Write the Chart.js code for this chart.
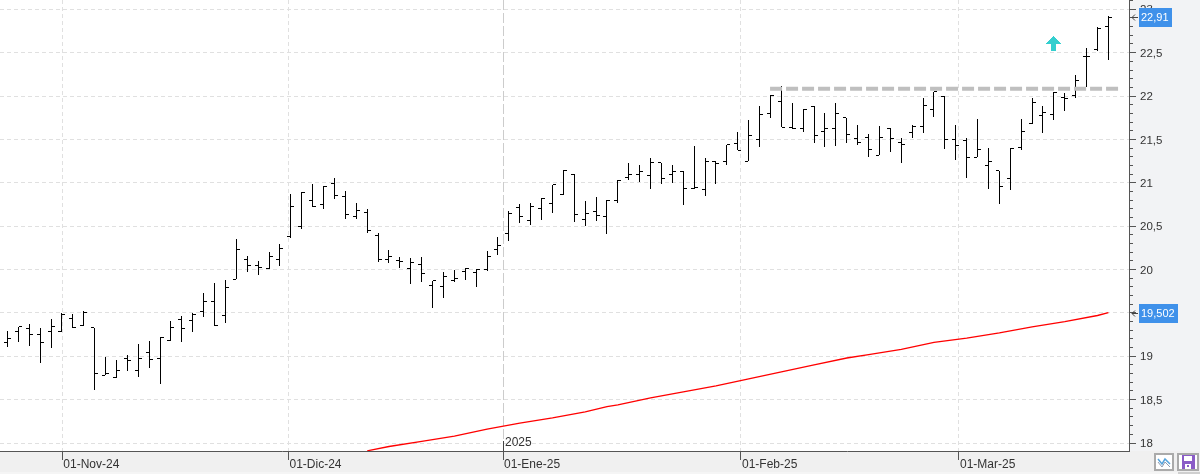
<!DOCTYPE html>
<html><head><meta charset="utf-8">
<style>html,body{margin:0;padding:0;background:#fff}canvas{display:block}</style>
<script src="https://cdn.jsdelivr.net/npm/chart.js@4"></script>
</head><body><div style="width:1200px;height:474px"><canvas id="c" width="1200" height="474"></canvas></div>
<script>
const highs=[19.29,19.34,19.37,19.33,19.43,19.50,19.49,19.52,19.33,18.99,18.96,19.02,19.14,19.18,19.22,19.41,19.47,19.50,19.73,19.85,19.88,20.35,20.16,20.10,20.20,20.29,20.87,20.89,20.99,20.96,21.05,20.90,20.77,20.70,20.42,20.23,20.15,20.13,20.15,19.87,19.97,19.99,20.02,20.01,20.21,20.37,20.68,20.75,20.77,20.82,20.98,21.15,21.10,20.79,20.84,20.80,21.03,21.23,21.20,21.28,21.23,21.21,21.13,21.42,21.29,21.25,21.44,21.58,21.72,21.89,22.01,22.11,21.92,21.85,21.88,21.81,21.92,21.75,21.67,21.56,21.66,21.63,21.52,21.67,21.98,22.05,22.00,21.67,21.52,21.73,21.40,21.14,21.40,21.74,21.98,21.89,22.05,22.03,22.24,22.55,22.80,22.92];
const lows=[19.10,19.17,19.12,18.93,19.10,19.28,19.33,19.35,18.62,18.78,18.75,18.83,18.76,18.87,18.68,19.18,19.17,19.28,19.45,19.35,19.39,19.89,19.97,19.94,20.00,20.04,20.36,20.46,20.73,20.70,20.81,20.58,20.59,20.42,20.09,20.08,20.02,19.83,19.86,19.56,19.67,19.85,19.88,19.80,19.98,20.16,20.33,20.53,20.52,20.57,20.66,20.86,20.55,20.50,20.56,20.41,20.77,21.03,21.00,20.92,20.99,21.00,20.74,20.93,20.85,20.99,21.21,21.37,21.25,21.42,21.74,21.64,21.62,21.59,21.45,21.42,21.42,21.46,21.44,21.30,21.32,21.35,21.23,21.52,21.58,21.76,21.39,21.27,21.06,21.29,20.93,20.76,20.92,21.38,21.68,21.58,21.73,21.82,21.97,22.10,22.52,22.41];
const opens=[19.16,19.29,19.32,19.25,19.28,19.29,19.43,19.36,19.33,18.78,18.76,18.97,18.84,19.04,18.98,19.18,19.42,19.41,19.52,19.63,19.47,19.89,20.12,20.05,20.01,20.12,20.38,20.50,20.80,20.75,20.99,20.84,20.61,20.66,20.39,20.12,20.10,20.01,20.06,19.82,19.80,19.87,19.98,19.97,20.00,20.23,20.42,20.71,20.56,20.70,20.76,20.86,21.10,20.58,20.67,20.61,20.80,21.06,21.10,21.08,21.23,21.09,21.13,20.93,20.92,21.25,21.25,21.45,21.25,21.50,21.80,21.94,21.64,21.62,21.88,21.59,21.63,21.75,21.51,21.52,21.32,21.63,21.47,21.58,21.65,21.85,22.00,21.50,21.49,21.29,21.20,21.14,21.05,21.41,21.68,21.78,21.79,21.98,22.01,22.45,22.54,22.80];
const closes=[19.21,19.34,19.25,19.16,19.34,19.48,19.33,19.50,18.80,18.80,18.84,18.95,18.98,18.96,19.22,19.33,19.32,19.48,19.63,19.35,19.79,20.23,20.05,20.02,20.15,20.24,20.73,20.89,20.73,20.96,20.85,20.63,20.68,20.45,20.12,20.15,20.09,20.08,19.95,19.87,19.92,19.90,20.01,20.00,20.15,20.28,20.65,20.61,20.73,20.82,20.98,21.14,20.63,20.65,20.62,20.80,21.03,21.09,21.13,21.23,21.05,21.13,20.93,20.94,21.25,21.22,21.44,21.37,21.55,21.79,22.01,21.64,21.62,21.85,21.55,21.63,21.80,21.56,21.47,21.38,21.52,21.51,21.44,21.65,21.89,22.05,21.50,21.43,21.29,21.38,21.25,20.96,21.40,21.59,21.93,21.81,22.04,21.97,22.18,22.46,22.78,22.91];
const maIndex=[33,35,38,41,44,47,50,53,55,56,59,62,65,68,71,74,77,79,82,85,88,91,94,97,100,101];
const maValues=[17.91,17.96,18.02,18.08,18.16,18.23,18.29,18.36,18.42,18.44,18.52,18.59,18.66,18.74,18.82,18.90,18.98,19.02,19.08,19.16,19.21,19.27,19.34,19.40,19.47,19.502];
const xTickPositions=[5.03,25.78,45.46,67.29,87.29];
const xTickLabels=['01-Nov-24','01-Dic-24','01-Ene-25','01-Feb-25','01-Mar-25'];
const yTickValues=[18,18.5,19,19.5,20,20.5,21,21.5,22,22.5,23];
const yMinorValues=[18.1,18.2,18.3,18.4,18.6,18.7,18.8,18.9,19.1,19.2,19.3,19.4,19.6,19.7,19.8,19.9,20.1,20.2,20.3,20.4,20.6,20.7,20.8,20.9,21.1,21.2,21.3,21.4,21.6,21.7,21.8,21.9,22.1,22.2,22.3,22.4,22.6,22.7,22.8,22.9,23.1];
const levelX=[69.96,101.9];
const levelY=[22.085,22.085];
const arrowX=[95.96];
const arrowY=[22.6];
const yearLabel='2025';
const closeTag='22,91';
const maTag='19,502';

const ohlcPainter={id:'ohlcPainter',
 beforeDraw(ch){const c=ch.ctx,a=ch.chartArea;c.save();
  c.fillStyle='#fff';c.fillRect(0,0,1200,474);
  c.fillStyle='#f2f3f5';c.fillRect(a.right,0,1200-a.right,a.bottom);
  c.fillStyle='#f0f0f0';c.fillRect(0,a.bottom,1200,474-a.bottom);
  c.fillStyle='#f5f5f5';c.fillRect(0,472,1200,2);
  c.fillStyle='#cfcfcf';c.fillRect(1178,472,22,2);
  c.restore();},
 beforeDatasetDraw(ch,args){
  const ds=ch.data.datasets[args.index],meta=args.meta,c=ch.ctx;
  if(ds.role==='range'){c.save();c.fillStyle=ds.backgroundColor;
    meta.data.forEach(b=>{const x=Math.round(b.x-.5);const t=Math.round(Math.min(b.y,b.base));const h=Math.max(1,Math.round(Math.abs(b.base-b.y)));c.fillRect(x,t,1,h);});
    c.restore();return false;}
  if(ds.role==='open'||ds.role==='close'){c.save();c.fillStyle=ds.borderColor;
    meta.data.forEach(p=>{const x=Math.round(p.x-.5);const y=Math.round(p.y-.5);
      if(ds.role==='open')c.fillRect(x-3,y,3,1);else c.fillRect(x+1,y,3,1);});
    c.restore();return false;}
  if(ds.role==='arrow'){c.save();c.fillStyle=ds.backgroundColor;
    meta.data.forEach(p=>{const x=Math.round(p.x-.5),y=Math.round(p.y-.5);
      c.fillRect(x-2,y,5,8);
      for(let k=0;k<8;k++){const w=k;c.fillRect(x-w,y-8+k+1,2*w+1,1);}
      c.fillRect(x-7,y+1-1,15,1);
    });c.restore();return false;}
 },
 afterDraw(ch){const c=ch.ctx,y=ch.scales.y,x=ch.scales.x,a=ch.chartArea;c.save();
  c.fillStyle='#555';
  yMinorValues.forEach(v=>{const p=y.getPixelForValue(v);if(p>=a.top&&p<=a.bottom)c.fillRect(a.right,Math.round(p-.5),4,1);});
  const jx=Math.round(x.getPixelForValue(xTickPositions[2])-.5);
  c.fillStyle='#444';c.fillRect(jx,441,1,10);
  c.font='12px "Liberation Sans"';c.fillStyle='#333';c.textBaseline='middle';c.textAlign='left';
  c.fillText(yearLabel,jx+2,442.5);
  const tag=(val,txt,w)=>{const p=Math.round(y.getPixelForValue(val));
    c.fillStyle='#3f91ea';c.fillRect(1139,p-9,w,19);
    c.fillStyle='#fff';c.font='11px "Liberation Sans"';c.textAlign='left';c.textBaseline='middle';c.fillText(txt,1141,p+1);
    c.strokeStyle='#444';c.lineWidth=1;c.beginPath();c.moveTo(1138,p+.5);c.lineTo(1132,p+.5);c.moveTo(1135,p-2.5);c.lineTo(1132,p+.5);c.lineTo(1135,p+3.5);c.stroke();};
  tag(closes[closes.length-1],closeTag,33);
  tag(maValues[maValues.length-1],maTag,39);
  c.fillStyle='#fff';c.strokeStyle='#aaa';c.lineWidth=2;
  c.fillRect(1155,454,18,16);c.strokeRect(1155,454,18,16);
  c.fillRect(1178,454,20,16);c.strokeRect(1178,454,20,16);
  c.strokeStyle='#55a3dc';c.lineWidth=1.5;c.beginPath();c.moveTo(1158,459);c.lineTo(1162,464);c.lineTo(1165,459);c.lineTo(1170,464);c.stroke();
  c.strokeStyle='#8f9bb0';c.lineWidth=1;c.beginPath();c.moveTo(1158,462);c.lineTo(1162,467);c.lineTo(1165,462);c.lineTo(1170,467);c.stroke();
  c.fillStyle='#8a5cc7';c.fillRect(1182,455,13,14);
  c.fillStyle='#fff';c.fillRect(1184,456,8,5);c.fillRect(1185,464,6,5);
  c.fillStyle='#8a5cc7';c.fillRect(1187,465,2,2);
  c.restore();}
};

const rangeData=highs.map((h,i)=>({x:i,y:[lows[i],h]}));
const openData=opens.map((v,i)=>({x:i,y:v}));
const closeData=closes.map((v,i)=>({x:i,y:v}));
const maData=maIndex.map((v,i)=>({x:v,y:maValues[i]}));
const levelData=levelX.map((v,i)=>({x:v,y:levelY[i]}));
const arrowData=arrowX.map((v,i)=>({x:v,y:arrowY[i]}));
const noPad=s=>{s.paddingTop=0;s.paddingBottom=0;s.paddingLeft=0;s.paddingRight=0;};

new Chart(document.getElementById('c'),{
 type:'bar',
 data:{datasets:[
  {role:'range',type:'bar',data:rangeData,backgroundColor:'#000',barThickness:1,order:3},
  {role:'open',type:'scatter',data:openData,borderColor:'#000',pointRadius:0,order:3},
  {role:'close',type:'scatter',data:closeData,borderColor:'#000',pointRadius:0,order:3},
  {role:'ma',type:'line',data:maData,borderColor:'#ff0000',borderWidth:1.3,pointRadius:0,tension:0,order:2},
  {role:'level',type:'line',data:levelData,borderColor:'#bfbfbf',borderWidth:4,borderDash:[12,4],pointRadius:0,order:1},
  {role:'arrow',type:'scatter',data:arrowData,backgroundColor:'#33cfcf',pointRadius:0,order:0}
 ]},
 options:{
  responsive:false,animation:false,devicePixelRatio:1,
  layout:{padding:0},
  plugins:{legend:{display:false},tooltip:{enabled:false},title:{display:false}},
  scales:{
   x:{type:'linear',offset:false,min:-0.688,max:102.89,
    grid:{offset:false,drawOnChartArea:true,
      color:c=>c.index===2?'#cccccc':'#e0e0e0',tickColor:'#555',tickLength:9,lineWidth:1},
    border:{display:true,color:'#555',width:1,dash:c=>c.index===2?[10,3]:[4,3]},
    afterBuildTicks:s=>{s.ticks=xTickPositions.map(v=>({value:v}));},
    afterFit:s=>{s.height=23;noPad(s);},
    ticks:{autoSkip:false,maxRotation:0,minRotation:0,align:'start',labelOffset:1,padding:-3,color:'#333',
      font:{family:'"Liberation Sans"',size:12},
      callback:(v,i)=>xTickLabels[i]}
   },
   y:{type:'linear',position:'right',min:17.908,max:23.107,
    grid:{color:'#e0e0e0',tickColor:'#555',tickLength:7,lineWidth:1},
    border:{display:true,color:'#555',width:1,dash:[4,3]},
    afterBuildTicks:s=>{s.ticks=yTickValues.map(v=>({value:v}));},
    afterFit:s=>{s.width=71;noPad(s);},
    ticks:{padding:4,labelOffset:1,color:'#333',font:{family:'"Liberation Sans"',size:11.5},
      callback:v=>String(v).replace('.',',')}
   }
  }
 },
 plugins:[ohlcPainter]
});
</script></body></html>
